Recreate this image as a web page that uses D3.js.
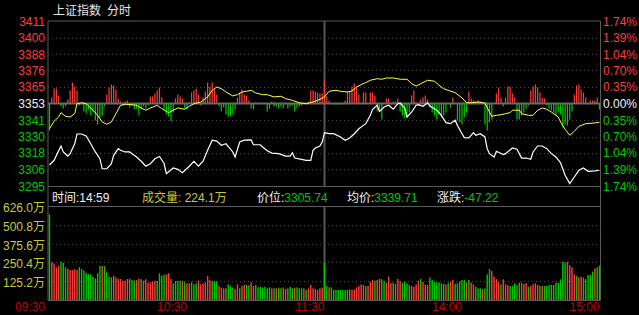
<!DOCTYPE html>
<html>
<head>
<meta charset="utf-8">
<script src="https://cdn.jsdelivr.net/npm/d3@7/dist/d3.min.js"></script>
<style>
  body { margin: 0; background: #000; }
  svg { display: block; }
  text { font-family: "Liberation Sans", Arial, "Noto Sans CJK SC", sans-serif; font-size: 12px; }
</style>
</head>
<body>
<svg id="chart" width="639" height="315"></svg>
<script>
// 上证指数 分时
var preClose = 3352.96
var pctSteps = [1.74, 1.39, 1.04, 0.70, 0.35, 0.00, -0.35, -0.70, -1.04, -1.39, -1.74]
var priceLabels = ['3411', '3400', '3388', '3376', '3365', '3353', '3341', '3330', '3318', '3306', '3295']
var pctLabels = ['1.74%', '1.39%', '1.04%', '0.70%', '0.35%', '0.00%', '0.35%', '0.70%', '1.04%', '1.39%', '1.74%']
var timeLabels = ['09:30', '10:30', '11:30', '14:00', '15:00']
var timeMinutes = [0, 60, 120, 180, 240]
var volTicks = [125.2, 250.4, 375.6, 500.8, 626.0]
var infoLabels = ['时间:', '成交量: ', '价位:', '均价:', '涨跌:']
var infoValues = ['14:59', '224.1万', '3305.74', '3339.71', '-47.22']

// price (white), [minute, index]
var price = [[0,3309.5],[2,3312.8],[5,3322.9],[6,3318.7],[8,3315.8],[9,3317.5],[11,3324.5],[12,3331.4],[14,3331.4],[16,3330.0],[18,3324.5],[20,3318.7],[22,3313.9],[23,3306.8],[25,3306.8],[27,3310.4],[28,3316.3],[30,3321.0],[31,3319.9],[33,3318.7],[35,3318.7],[36,3317.5],[38,3315.1],[40,3312.1],[42,3308.6],[44,3310.4],[46,3313.9],[48,3315.5],[50,3310.5],[51,3303.3],[54,3307.4],[56,3306.4],[58,3304.0],[61,3308.6],[63,3312.1],[65,3308.6],[67,3312.1],[69,3319.9],[71,3327.0],[73,3326.4],[75,3323.4],[77,3324.5],[80,3318.7],[81,3315.1],[83,3325.7],[85,3327.0],[88,3327.2],[89,3323.8],[92,3323.8],[93,3322.2],[95,3319.5],[97,3317.9],[100,3317.5],[103,3315.8],[105,3315.8],[106,3318.2],[107,3314.4],[110,3313.5],[112,3312.8],[114,3312.8],[115,3319.9],[116,3321.5],[118,3322.9],[119,3325.7],[120,3332.3],[122,3331.6],[124,3331.6],[127,3329.3],[129,3327.0],[131,3328.6],[133,3331.6],[135,3335.1],[137,3337.5],[138,3338.7],[140,3344.6],[141,3348.9],[143,3351.7],[144,3347.4],[146,3350.5],[148,3351.7],[150,3348.9],[152,3352.8],[153,3353.3],[155,3349.8],[156,3343.4],[158,3346.9],[160,3351.7],[161,3352.1],[163,3351.0],[165,3353.5],[166,3351.2],[169,3348.2],[171,3344.6],[173,3339.4],[175,3338.7],[177,3341.1],[178,3337.5],[180,3331.6],[181,3328.8],[183,3328.6],[185,3332.3],[186,3330.5],[188,3331.6],[190,3329.3],[191,3321.0],[192,3317.5],[194,3315.1],[195,3319.2],[198,3316.8],[199,3317.5],[202,3321.5],[204,3320.6],[206,3314.4],[208,3314.4],[210,3313.5],[211,3318.7],[213,3322.9],[215,3322.9],[217,3321.0],[219,3317.5],[221,3315.1],[223,3311.1],[225,3302.2],[227,3296.3],[229,3301.0],[231,3305.7],[233,3307.4],[235,3305.0],[238,3305.3],[240,3305.74]]

// yellow line, [minute, index]
var avgLine = [[0,3335.1],[2,3340.4],[4,3343.4],[5,3346.5],[7,3343.9],[9,3343.4],[11,3345.8],[12,3352.8],[14,3353.5],[16,3352.8],[19,3348.2],[21,3344.6],[23,3339.9],[25,3338.3],[27,3339.9],[29,3345.8],[31,3351.7],[33,3352.4],[36,3352.1],[38,3351.7],[40,3349.8],[42,3348.2],[44,3349.8],[47,3351.7],[49,3349.3],[52,3346.5],[54,3348.2],[56,3349.8],[59,3348.9],[61,3351.0],[63,3352.8],[66,3354.0],[69,3357.6],[71,3362.3],[73,3364.6],[75,3363.4],[77,3361.1],[80,3358.3],[82,3359.2],[84,3361.1],[86,3361.6],[88,3362.3],[90,3360.4],[93,3359.2],[95,3359.2],[98,3357.6],[101,3358.1],[103,3356.4],[106,3355.2],[109,3353.5],[112,3352.8],[115,3354.0],[118,3355.9],[120,3357.6],[122,3361.6],[125,3362.3],[127,3361.6],[130,3361.1],[132,3361.8],[134,3364.6],[136,3366.3],[138,3367.7],[140,3369.4],[143,3370.5],[145,3370.1],[147,3371.0],[150,3371.0],[153,3370.1],[156,3370.1],[158,3367.0],[160,3365.3],[162,3367.0],[165,3369.4],[168,3368.7],[170,3365.8],[172,3363.4],[174,3362.3],[177,3360.6],[180,3356.9],[182,3353.5],[184,3353.5],[187,3354.0],[190,3353.3],[192,3346.9],[193,3343.9],[195,3344.6],[197,3345.0],[199,3345.8],[201,3346.5],[202,3348.2],[205,3348.2],[206,3345.8],[209,3344.6],[211,3344.6],[213,3348.2],[215,3349.8],[217,3348.9],[219,3346.9],[222,3343.4],[223,3339.9],[225,3334.7],[227,3330.5],[229,3333.3],[231,3336.8],[234,3338.7],[238,3339.2],[240,3339.71]]

// red / green strength bars around the zero line, [minute, value]
var strength = [[0,-27],[1,6],[2,15],[3,15],[4,8],[5,-3],[6,-5],[7,-3],[8,4],[9,13],[10,21],[11,17],[12,13],[13,-2],[14,-1],[15,-8],[16,-10],[17,-6],[18,-12],[19,-9],[20,-17],[21,-21],[22,-14],[23,-12],[24,-3],[25,9],[26,16],[27,19],[28,18],[29,14],[30,5],[31,2],[32,-2],[33,2],[34,3],[35,-4],[36,-2],[37,-6],[38,-5],[39,-12],[40,-6],[41,-3],[42,-5],[43,-2],[44,7],[45,7],[46,10],[47,13],[48,16],[49,6],
  [50,-6],[51,-11],[52,-13],[53,-18],[54,-9],[55,5],[56,9],[57,7],[58,5],[59,-5],[60,-6],[61,1],[62,11],[63,13],[64,15],[65,9],[66,-2],[67,6],[68,12],[69,21],[70,17],[71,21],[72,14],[73,9],[74,-3],[75,-8],[76,-4],[77,-11],[78,-13],[79,-13],[80,-11],[81,-6],[82,6],[83,11],[84,14],[85,9],[86,8],[87,3],[88,-5],[89,-6],[90,1],
  [95,-8],[96,-5],[97,2],[98,-3],[99,-3],[100,-5],[101,-3],[102,-5],[103,-1],[104,-5],[105,-3],[106,-2],[107,-8],[108,-5],[109,-3],[110,-2],[113,2],[114,13],[115,13],[116,12],[117,11],[118,10],[119,10],[120,23],[121,7],[122,3],[124,-1],[125,-1],[126,-1],[127,-1],[129,3],[130,12],[131,12],[132,17],[133,20],[134,16],[135,9],[137,11],[138,11],[140,11],[141,11],[142,8],
  [143,-8],[144,-6],[145,-16],[147,5],[148,5],[150,2],[151,2],[152,5],[153,-8],[154,-12],[155,-15],[156,-14],[157,-9],[158,8],[159,13],[160,1],[161,-2],[162,4],[163,6],[164,8],[165,4],[166,-4],[167,-9],[168,-12],[169,-16],[170,-11],[171,-14],[172,-12],[173,-9],[175,-4],[176,6],[178,-17],[179,-19],[180,-21],[181,-14],[182,-9],[183,12],[184,5],[185,3],[186,2],[187,3],[188,2],
  [190,-21],[191,-27],[192,-19],[193,-16],[195,10],[196,16],[197,6],[198,-3],[199,6],[200,17],[201,17],[202,10],[203,6],[204,-16],[205,-16],[206,-12],[207,-9],[208,-5],[209,-2],[210,13],[211,17],[212,19],[213,16],[214,11],[215,6],[216,5],[217,-2],[218,-5],[219,-7],[220,-9],[221,-12],[222,-9],[223,-11],[224,-24],[225,-21],[226,-22],[227,-16],[228,-8],[229,9],[230,18],[231,19],[232,14],[233,11],[234,6],[235,-1],[236,3],[237,3],[238,3],[239,6],[240,-6]]

// volume per minute (万手), and direction R = up, G = down
var volume = [570,251,244,218,227,255,249,218,207,200,200,204,200,218,207,196,182,173,171,155,144,178,227,227,227,184,155,151,162,151,140,140,129,129,140,142,133,129,133,142,138,129,138,115,118,122,129,127,178,162,167,171,178,140,111,127,127,127,129,118,111,111,118,104,111,129,104,111,118,160,133,127,127,127,93,82,78,78,104,93,82,73,104,78,93,100,100,98,118,93,100,84,89,84,89,78,84,78,78,78,82,78,84,73,78,89,78,82,84,78,
  78,78,67,78,100,78,73,67,78,82,251,
  93,84,84,67,67,67,67,67,67,67,71,67,71,84,93,104,100,93,93,122,133,129,133,140,138,127,115,155,111,115,107,140,127,115,122,111,100,93,89,104,129,140,122,104,100,151,133,122,118,118,111,107,104,115,122,133,107,111,122,133,133,118,133,115,104,89,78,78,73,78,171,207,193,155,140,122,104,138,104,100,93,93,111,100,115,115,107,111,89,93,104,111,100,93,93,93,93,100,100,100,115,115,138,255,249,255,233,218,171,162,151,155,149,138,167,167,189,211,218,229]
var volDir = 'GRRRRGGGRRRRRGGGGGGGGGGRGGGGRRRRRRRGGGRRGRRRRRRGGGGRRRGGGGRGRRGGGRRRRRRGGGRRRGGGGRRGRRGGRRGGGGGGGRGRGGRRGGGRG' +
  'GGRGRRRRRRR' +
  'GGRGGGGGGGGRRRRRRRGRRRGRRGGRRRGRRRGGGGRRRRGRRRGGGGGGGRGRRGGGGGRGRRGGGRGGGRRRRGRRRGGGGRGRRGRRRRGRGGGGGGGGGGRRRRGRRGGGGGR'

var width = 639
var height = 315
var left = 48
var right = 600.5
var priceTop = 21
var priceBottom = 186
var infoBottom = 206
var volBottom = 300

var red = '#ff3c3c'
var green = '#00c800'
var grid = '#4a4a4a'
var frame = '#5a5a5a'

var svg = d3.select('#chart')
svg.append('rect').attr('width', width).attr('height', height).attr('fill', '#000')

var x = d3.scaleLinear().domain([0, 240]).range([49.5, 599.5])
var y = d3.scaleLinear()
  .domain([preClose * (1 - 0.0174), preClose * (1 + 0.0174)])
  .range([priceBottom, priceTop])
var yZero = y(preClose)
var yStrength = d3.scaleLinear().domain([-40, 40]).range([yZero + 40, yZero - 40])
var yVol = d3.scaleLinear().domain([0, 626.0]).range([volBottom, infoBottom])

// title
svg.append('text').attr('x', 53).attr('y', 15).attr('fill', '#e6e6e6').text('上证指数')
svg.append('text').attr('x', 107).attr('y', 15).attr('fill', '#e6e6e6').text('分时')

// frame
var frameLines = [
  [left, priceTop, right, priceTop],
  [left, priceBottom + 0.5, right, priceBottom + 0.5],
  [left, infoBottom + 0.5, right, infoBottom + 0.5],
  [left, volBottom + 0.5, right, volBottom + 0.5],
  [left, priceTop, left, volBottom + 0.5],
  [right, priceTop, right, volBottom + 0.5]
]
svg.selectAll('.frame')
  .data(frameLines)
  .enter().append('line')
  .attr('x1', function (d) { return d[0] }).attr('y1', function (d) { return d[1] })
  .attr('x2', function (d) { return d[2] }).attr('y2', function (d) { return d[3] })
  .attr('stroke', frame).attr('stroke-width', 1)

// price grid
var levels = pctSteps.map(function (p) { return preClose * (1 + p / 100) })
svg.selectAll('.pgrid')
  .data(levels.filter(function (d, i) { return i > 0 && i < 10 && i !== 5 }))
  .enter().append('line')
  .attr('x1', left).attr('x2', right)
  .attr('y1', function (d) { return Math.round(y(d)) + 0.5 })
  .attr('y2', function (d) { return Math.round(y(d)) + 0.5 })
  .attr('stroke', grid).attr('stroke-dasharray', '1,3')

// volume grid
svg.selectAll('.vgrid')
  .data(volTicks.slice(0, 4))
  .enter().append('line')
  .attr('x1', left).attr('x2', right)
  .attr('y1', function (d) { return Math.round(yVol(d)) + 0.5 })
  .attr('y2', function (d) { return Math.round(yVol(d)) + 0.5 })
  .attr('stroke', grid).attr('stroke-dasharray', '1,3')

// midday divider
svg.append('line').attr('x1', x(120)).attr('x2', x(120))
  .attr('y1', priceTop).attr('y2', priceBottom).attr('stroke', '#555').attr('stroke-width', 2)
svg.append('line').attr('x1', x(120)).attr('x2', x(120))
  .attr('y1', infoBottom).attr('y2', volBottom).attr('stroke', '#555').attr('stroke-width', 2)

// strength bars
svg.selectAll('.sbar')
  .data(strength)
  .enter().append('rect')
  .attr('x', function (d) { return x(d[0]) - 0.6 })
  .attr('width', 1.2)
  .attr('y', function (d) { return d[1] > 0 ? yStrength(d[1]) : yZero })
  .attr('height', function (d) { return Math.abs(yStrength(d[1]) - yZero) })
  .attr('fill', function (d) { return d[1] > 0 ? red : green })

// zero line
svg.append('line').attr('x1', left).attr('x2', right)
  .attr('y1', yZero).attr('y2', yZero).attr('stroke', '#6a6a6a').attr('stroke-width', 2)

var line = d3.line()
  .x(function (d) { return x(d[0]) })
  .y(function (d) { return y(d[1]) })

svg.append('path').datum(avgLine).attr('d', line)
  .attr('fill', 'none').attr('stroke', '#ffff50').attr('stroke-width', 1)
svg.append('path').datum(price).attr('d', line)
  .attr('fill', 'none').attr('stroke', '#ffffff').attr('stroke-width', 1.2)

// volume bars
svg.selectAll('.vbar')
  .data(volume)
  .enter().append('rect')
  .attr('x', function (d, i) { return x(i) - 0.7 })
  .attr('width', 1.4)
  .attr('y', function (d) { return yVol(d) })
  .attr('height', function (d) { return volBottom - yVol(d) })
  .attr('fill', function (d, i) { return volDir[i] === 'R' ? red : green })

// left price labels, right pct labels
function levelColor (i) { return i < 5 ? red : (i === 5 ? '#f0f0ff' : green) }
svg.selectAll('.plabel')
  .data(priceLabels)
  .enter().append('text')
  .attr('x', 45).attr('y', function (d, i) { return y(levels[i]) + 4.5 })
  .attr('text-anchor', 'end')
  .attr('fill', function (d, i) { return levelColor(i) })
  .text(function (d) { return d })
svg.selectAll('.pctlabel')
  .data(pctLabels)
  .enter().append('text')
  .attr('x', 603).attr('y', function (d, i) { return y(levels[i]) + 4.5 })
  .attr('fill', function (d, i) { return levelColor(i) })
  .text(function (d) { return d })

// volume labels
svg.selectAll('.vlabel')
  .data(volTicks)
  .enter().append('text')
  .attr('x', 45).attr('y', function (d) { return yVol(d) + 6 })
  .attr('text-anchor', 'end')
  .attr('fill', '#c8c83c')
  .text(function (d) { return d.toFixed(1) + '万' })

// time labels
svg.selectAll('.tlabel')
  .data(timeLabels)
  .enter().append('text')
  .attr('x', function (d, i) { return i === 0 ? 45 : x(timeMinutes[i]) })
  .attr('y', 311)
  .attr('text-anchor', 'end')
  .attr('fill', '#c00000')
  .text(function (d) { return d })

// info row
var infoX = [52, 142, 257, 347, 437]
var labelColors = ['#f0f0f0', '#c8c83c', '#f0f0f0', '#f0f0f0', '#f0f0f0']
var valueColors = ['#f0f0ff', '#c8c83c', green, green, green]
infoLabels.forEach(function (lab, i) {
  var t = svg.append('text').attr('x', infoX[i]).attr('y', 201.5)
  t.append('tspan').attr('fill', labelColors[i]).text(lab)
  t.append('tspan').attr('fill', valueColors[i]).text(infoValues[i])
})
</script>
</body>
</html>
